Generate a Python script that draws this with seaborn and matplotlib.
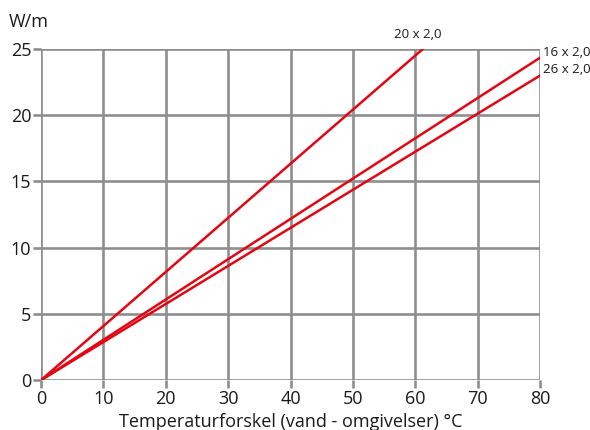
import pandas as pd
import matplotlib.pyplot as plt
import seaborn as sns

# Heat emission per pipe dimension
series = ['20 x 2,0', '16 x 2,0', '26 x 2,0']
temp_diff = [[0, 61.2], [0, 80], [0, 80]]
watt_per_m = [[0, 25.0], [0, 24.35], [0, 23.0]]

x_ticks = [0, 10, 20, 30, 40, 50, 60, 70, 80]
y_ticks = [0, 5, 10, 15, 20, 25]

rows = []
for name, xs, ys in zip(series, temp_diff, watt_per_m):
    for x, y in zip(xs, ys):
        rows.append({'serie': name, 'dT': x, 'W': y})
df = pd.DataFrame(rows)

sns.set_style('white')
plt.rcParams['font.family'] = ['Open Sans', 'DejaVu Sans']

fig = plt.figure(figsize=(5.9, 4.3), dpi=100)
ax = fig.add_axes([0.0695, 0.116, 0.846, 0.770])

grid_col = '#8e8e8e'
sns.lineplot(data=df, x='dT', y='W', hue='serie',
             palette=['#e30613'] * 3, linewidth=1.8,
             legend=False, ax=ax, zorder=3)

ax.set_xlim(0, 80)
ax.set_ylim(0, 25)
ax.set_xticks(x_ticks)
ax.set_yticks(y_ticks)
ax.grid(True, color=grid_col, linewidth=1.9, zorder=1)
ax.set_axisbelow(True)
for s in ax.spines.values():
    s.set_visible(False)
ax.tick_params(axis='both', colors=grid_col, length=6, width=1.9,
               labelsize=13, labelcolor='#1a1a1a', pad=1)
ax.tick_params(axis='x', direction='out', bottom=True)
ax.tick_params(axis='y', direction='out', left=True)

ax.set_xlabel('Temperaturforskel (vand - omgivelser) °C', fontsize=13,
              color='#1a1a1a', labelpad=4)
ax.set_ylabel('')
fig.text(0.014, 0.948, 'W/m', fontsize=13, color='#1a1a1a', va='center')

# end labels
for name, xs, ys in zip(series, temp_diff, watt_per_m):
    if xs[-1] < 80:
        ax.annotate(name, (xs[-1], ys[-1]), xytext=(-4, 6),
                    textcoords='offset points', ha='center', va='bottom',
                    fontsize=9.5, color='#1a1a1a', annotation_clip=False)
    else:
        ax.annotate(name, (xs[-1], ys[-1]), xytext=(2, 4),
                    textcoords='offset points', ha='left', va='center',
                    fontsize=9.5, color='#1a1a1a', annotation_clip=False)

fig.savefig('out.png', dpi=100)
